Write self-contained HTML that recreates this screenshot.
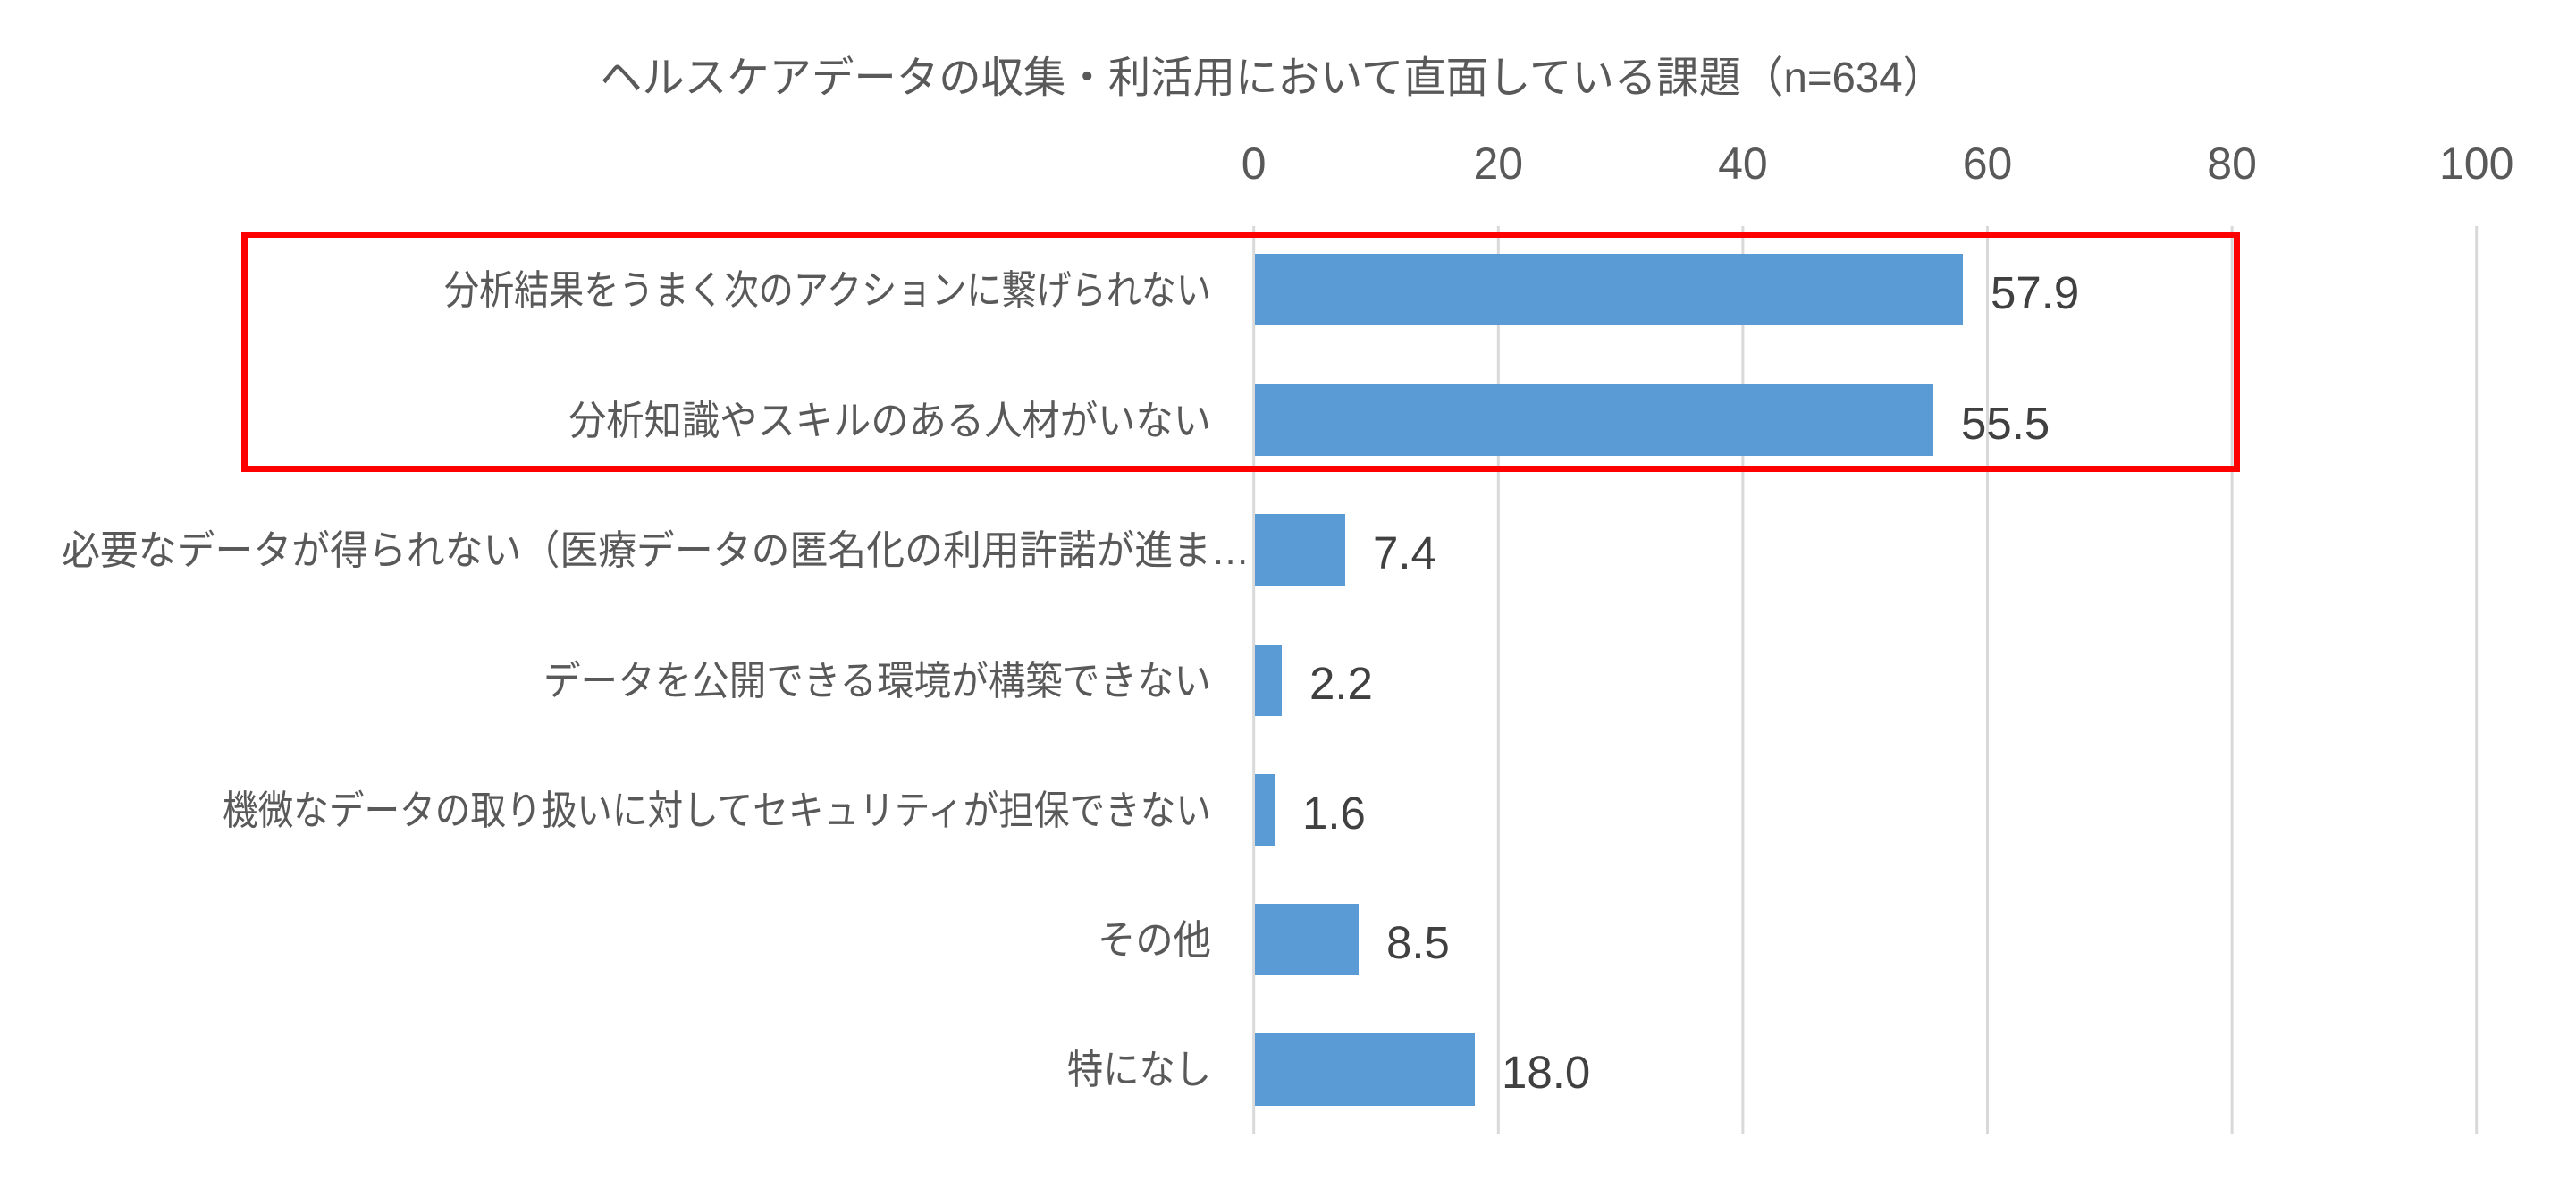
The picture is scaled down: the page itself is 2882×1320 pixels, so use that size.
<!DOCTYPE html>
<html><head><meta charset="utf-8"><style>
html,body{margin:0;padding:0;background:#fff;}
svg{display:block;}
.j{font-family:"Liberation Sans","Noto Sans CJK JP",sans-serif;fill:#595959;}
.v{font-family:"Liberation Sans",sans-serif;fill:#404040;font-size:51px;}
.t{font-family:"Liberation Sans",sans-serif;fill:#595959;font-size:50px;}
</style></head><body>
<svg width="2882" height="1320" viewBox="0 0 2882 1320" xmlns="http://www.w3.org/2000/svg">
<text class="j" x="671" y="103" font-size="48" textLength="1505" lengthAdjust="spacingAndGlyphs">ヘルスケアデータの収集・利活用において直面している課題（n=634）</text>
<g stroke="#D9D9D9" stroke-width="3">
<line x1="1402.7" y1="253" x2="1402.7" y2="1268"/>
<line x1="1676.3" y1="253" x2="1676.3" y2="1268"/>
<line x1="1949.9" y1="253" x2="1949.9" y2="1268"/>
<line x1="2223.5" y1="253" x2="2223.5" y2="1268"/>
<line x1="2497.1" y1="253" x2="2497.1" y2="1268"/>
<line x1="2770.7" y1="253" x2="2770.7" y2="1268"/>
</g>
<g class="t" text-anchor="middle">
<text x="1402.7" y="200">0</text>
<text x="1676.3" y="200">20</text>
<text x="1949.9" y="200">40</text>
<text x="2223.5" y="200">60</text>
<text x="2497.1" y="200">80</text>
<text x="2770.7" y="200">100</text>
</g>
<g fill="#5B9BD5">
<rect x="1404" y="284" width="792" height="80"/>
<rect x="1404" y="430" width="759" height="80"/>
<rect x="1404" y="575" width="101" height="80"/>
<rect x="1404" y="721" width="30" height="80"/>
<rect x="1404" y="866" width="22" height="80"/>
<rect x="1404" y="1011" width="116" height="80"/>
<rect x="1404" y="1156" width="246" height="81"/>
</g>
<g class="v">
<text x="2227" y="345">57.9</text>
<text x="2194" y="491">55.5</text>
<text x="1536" y="636">7.4</text>
<text x="1465" y="782">2.2</text>
<text x="1457" y="927">1.6</text>
<text x="1551" y="1072">8.5</text>
<text x="1680" y="1217">18.0</text>
</g>
<g class="j" font-size="45">
<text x="497" y="340" textLength="858" lengthAdjust="spacingAndGlyphs">分析結果をうまく次のアクションに繋げられない</text>
<text x="636" y="486" textLength="719" lengthAdjust="spacingAndGlyphs">分析知識やスキルのある人材がいない</text>
<text x="69" y="631" textLength="1329" lengthAdjust="spacingAndGlyphs">必要なデータが得られない（医療データの匿名化の利用許諾が進ま…</text>
<text x="608" y="777" textLength="747" lengthAdjust="spacingAndGlyphs">データを公開できる環境が構築できない</text>
<text x="249" y="922" textLength="1106" lengthAdjust="spacingAndGlyphs">機微なデータの取り扱いに対してセキュリティが担保できない</text>
<text x="1228" y="1067" textLength="127" lengthAdjust="spacingAndGlyphs">その他</text>
<text x="1194" y="1212" textLength="161" lengthAdjust="spacingAndGlyphs">特になし</text>
</g>
<rect x="273.5" y="262.5" width="2229" height="262" fill="none" stroke="#FF0000" stroke-width="7"/>
</svg>
</body></html>
